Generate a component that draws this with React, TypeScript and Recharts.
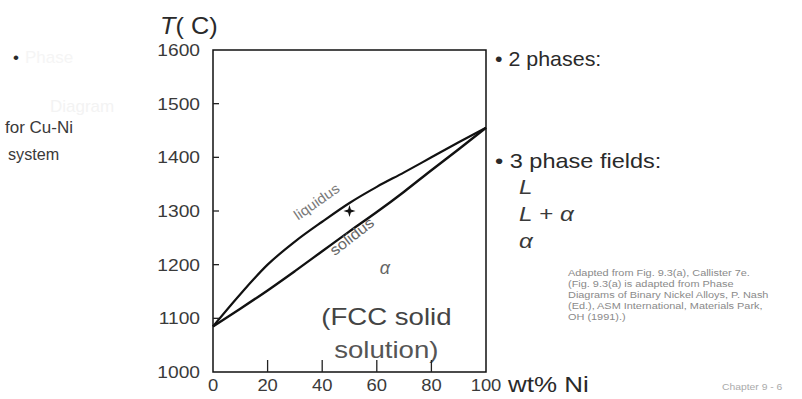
import React from "react";
import {
	ComposedChart,
	Line,
	XAxis,
	YAxis,
	ReferenceArea,
	ReferenceDot,
} from "recharts";

// Cu-Ni binary phase diagram: composition (wt% Ni) vs temperature (C)
const niPct = [0, 10, 20, 30, 40, 50, 60, 70, 80, 90, 100];
const liquidusT = [1085, 1145, 1200, 1243, 1280, 1315, 1345, 1372, 1400, 1428, 1455];
const solidusT = [1085, 1118, 1152, 1188, 1225, 1262, 1298, 1336, 1376, 1415, 1455];

// alloy state point marked on the diagram
const alloyNi = [50];
const alloyT = [1300];

const tempTicks = [1000, 1100, 1200, 1300, 1400, 1500, 1600];
const niTicks = [0, 20, 40, 60, 80, 100];

const phaseFields = ["L", "L + α", "α"];
const sourceNote = [
	"Adapted from Fig. 9.3(a), Callister 7e.",
	"(Fig. 9.3(a) is adapted from Phase",
	"Diagrams of Binary Nickel Alloys, P. Nash",
	"(Ed.), ASM International, Materials Park,",
	"OH (1991).)",
];

const FONT = '"Liberation Sans", Arial, Helvetica, sans-serif';
const W = 802;
const H = 399;

const rows = niPct.map((ni, i) => ({
	ni,
	liquidus: liquidusT[i],
	solidus: solidusT[i],
}));

// stretched label helper (the slide text is a bit wider than plain Arial)
const Txt = ({ x, y, size, anchor = "start", fill = "#2a2a2a", sx = 1.15, italic = false, children }: any) => (
	<text
		transform={`translate(${x},${y}) scale(${sx},1)`}
		textAnchor={anchor}
		fontSize={size}
		fontFamily={FONT}
		fontStyle={italic ? "italic" : "normal"}
		fill={fill}>
		{children}
	</text>
);

const TempTick = ({ x, y, payload }: any) => {
	const v = payload.value;
	const inner = v > 1000 && v < 1600;
	return (
		<g>
			{inner && <line x1={x + 13} x2={x + 19} y1={y} y2={y} stroke="#222" strokeWidth={1.3} />}
			<Txt x={x} y={y + 6} size={16} anchor="end" fill="#3a3a3a" sx={1.2}>
				{v}
			</Txt>
		</g>
	);
};

const NiTick = ({ x, y, payload }: any) => {
	const v = payload.value;
	const inner = v > 0 && v < 100;
	return (
		<g>
			{inner && <line x1={x} x2={x} y1={y} y2={y - 12} stroke="#222" strokeWidth={1.3} />}
			<Txt x={x} y={y + 19} size={16} anchor="middle" fill="#3a3a3a" sx={1.15}>
				{v}
			</Txt>
		</g>
	);
};

const Star = ({ cx, cy }: any) => (
	<path
		d={`M${cx},${cy - 6} L${cx + 1.4},${cy - 1.4} L${cx + 6},${cy} L${cx + 1.4},${cy + 1.4} L${cx},${cy + 6} L${cx - 1.4},${cy + 1.4} L${cx - 6},${cy} L${cx - 1.4},${cy - 1.4} Z`}
		fill="#111"
	/>
);

const plotText =
	(text: string, size: number, opts: any = {}) =>
	({ cx, cy }: any) => {
		const sx = opts.sx || 1;
		const rot = opts.angle ? ` rotate(${opts.angle})` : "";
		return (
			<text
				transform={`translate(${cx},${cy})${rot} scale(${sx},1)`}
				textAnchor="middle"
				fontSize={size}
				fontFamily={FONT}
				fontStyle={opts.italic ? "italic" : "normal"}
				fill={opts.fill || "#444"}>
				{text}
			</text>
		);
	};

const App = () => {
	return (
		<div style={{ position: "absolute", left: 0, top: 0, width: W, height: H, background: "#fff" }}>
			<ComposedChart
				width={W}
				height={H}
				data={rows}
				margin={{ top: 50, right: 316, bottom: 0, left: 153 }}>
				<XAxis
					dataKey="ni"
					type="number"
					domain={[0, 100]}
					ticks={niTicks}
					axisLine={false}
					tickLine={false}
					tickSize={0}
					tickMargin={0}
					height={27}
					tick={<NiTick />}
				/>
				<YAxis
					type="number"
					domain={[1000, 1600]}
					ticks={tempTicks}
					axisLine={false}
					tickLine={false}
					tickSize={0}
					tickMargin={13}
					width={60}
					tick={<TempTick />}
				/>
				<ReferenceArea
					x1={0}
					x2={100}
					y1={1000}
					y2={1600}
					fill="none"
					stroke="#111"
					strokeWidth={1.5}
					ifOverflow="visible"
				/>
				<Line
					type="monotone"
					dataKey="liquidus"
					stroke="#111"
					strokeWidth={2.2}
					dot={false}
					isAnimationActive={false}
				/>
				<Line
					type="monotone"
					dataKey="solidus"
					stroke="#111"
					strokeWidth={2.4}
					dot={false}
					isAnimationActive={false}
				/>
				<ReferenceDot x={alloyNi[0]} y={alloyT[0]} shape={<Star />} />
				<ReferenceDot x={39} y={1310} shape={plotText("liquidus", 14, { angle: -35, fill: "#7a7a7a", sx: 1.1 })} />
				<ReferenceDot x={52} y={1245} shape={plotText("solidus", 15, { angle: -38, fill: "#666", sx: 1.1 })} />
				<ReferenceDot x={63} y={1182} shape={plotText("α", 18, { italic: true, fill: "#666" })} />
				<ReferenceDot x={63.5} y={1088} shape={plotText("(FCC solid", 23, { fill: "#444", sx: 1.2 })} />
				<ReferenceDot x={63.5} y={1026} shape={plotText("solution)", 23, { fill: "#555", sx: 1.2 })} />
			</ComposedChart>

			<svg
				width={W}
				height={H}
				style={{ position: "absolute", left: 0, top: 0, pointerEvents: "none" }}>
				<Txt x={160} y={34} size={23} sx={1.1}>
					<tspan fontStyle="italic">T</tspan>( C)
				</Txt>

				<Txt x={13} y={63} size={17} sx={1}>•</Txt>
				<Txt x={25} y={63} size={17} sx={1} fill="#f5f5f5">Phase</Txt>
				<Txt x={50} y={112} size={17} sx={1} fill="#f3f3f3">Diagram</Txt>
				<Txt x={5} y={133} size={17} sx={1} fill="#3a3a3a">for Cu-Ni</Txt>
				<Txt x={8} y={160} size={17} sx={0.95} fill="#3a3a3a">system</Txt>

				<Txt x={495} y={66} size={21} sx={1.02}>• 2 phases:</Txt>
				<Txt x={495} y={168} size={21} sx={1.12}>• 3 phase fields:</Txt>
				{phaseFields.map((f, i) => (
					<Txt key={f} x={519} y={194 + i * 27} size={21} italic={i !== 1} fill="#3a3a3a">
						{i === 1 ? (
							<>
								<tspan fontStyle="italic">L</tspan> + <tspan fontStyle="italic">α</tspan>
							</>
						) : (
							f
						)}
					</Txt>
				))}
				{sourceNote.map((line, i) => (
					<Txt key={i} x={568} y={276 + i * 11} size={9.5} sx={1.15} fill="#8a8a8a">
						{line}
					</Txt>
				))}
				<Txt x={508} y={392} size={22} sx={1.18}>wt% Ni</Txt>
				<Txt x={722} y={390} size={9} fill="#aaa">Chapter 9 - 6</Txt>
			</svg>
		</div>
	);
};

export default App;
